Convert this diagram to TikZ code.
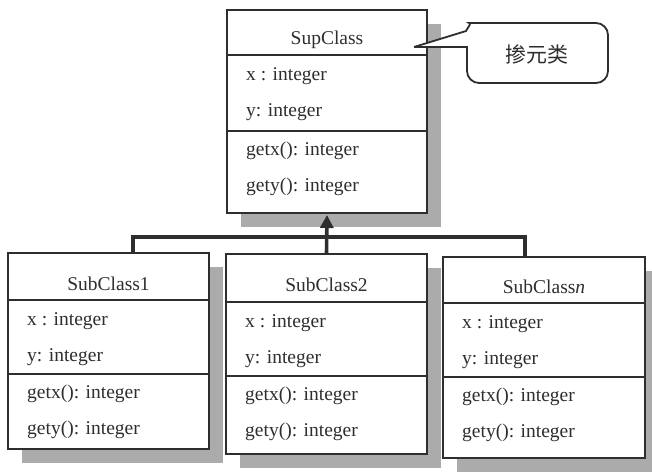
\documentclass[tikz,border=0pt]{standalone}
\usepackage{fontspec}
\setmainfont{Liberation Serif}
\newfontfamily\cjk{Noto Sans CJK SC}
\usetikzlibrary{arrows.meta,calc}
\definecolor{ink}{HTML}{2E2E2E}
\definecolor{shade}{HTML}{ABABAB}
\tikzset{
  frame/.style={draw=ink, line width=1.8pt, fill=white, inner sep=0pt, outer sep=0pt},
  divider/.style={draw=ink, line width=1.6pt},
  shadowbox/.style={fill=shade},
  titletext/.style={font=\fontsize{19.5}{22}\selectfont, text=ink, inner sep=0pt},
  member/.style={font=\fontsize{19.5}{22}\selectfont, text=ink, inner sep=0pt, anchor=west, text height=13pt, text depth=4pt},
  conn/.style={draw=ink, line width=3.6pt, line join=miter},
  callout/.style={draw=ink, line width=1.8pt, fill=white},
}
% #1 name, #2 left, #3 right, #4 top, #5 div1, #6 div2, #7 bottom, #8 title
\newcommand\umlclass[8]{%
  \fill[shadowbox] (#2+14,#4+14) rectangle (#3+14,#7+14);
  \pgfmathsetmacro\bw{#3-#2}%
  \pgfmathsetmacro\bh{#7-#4}%
  \node[frame, anchor=north west, minimum width=\bw pt, minimum height=\bh pt] (#1) at (#2,#4) {};
  \draw[divider] (#2,#5) -- (#3,#5);
  \draw[divider] (#2,#6) -- (#3,#6);
  \node[titletext] (#1-t) at ({(#2+#3)/2},{(#4+#5)/2+7}) {#8};
  \node[member] (#1-a) at (#2+19,#5+21) {x : integer};
  \node[member] (#1-b) at (#2+19,#5+57) {y: integer};
  \node[member] (#1-c) at (#2+19,#6+20) {getx(): integer};
  \node[member] (#1-d) at (#2+19,#6+56) {gety(): integer};
}
\begin{document}
\begin{tikzpicture}[x=1pt,y=-1pt]
\useasboundingbox (0,0) rectangle (652,471);
\umlclass{sup}{227}{427}{10}{55}{131}{213}{SupClass}
\umlclass{sub1}{8}{209}{253}{300}{374}{449}{SubClass1}
\umlclass{sub2}{226}{427}{254}{302}{376}{454}{SubClass2}
\umlclass{subn}{443}{645}{257}{303}{377}{458}{SubClass\textit{n}}
% inheritance connectors
\coordinate (j1) at (133,237);
\coordinate (jn) at (525,237);
\draw[conn] (j1 |- sub1.north) -- (j1) -- (jn) -- (jn |- subn.north);
\draw[conn, -{Triangle[width=13pt,length=13pt]}, shorten >=2pt] (sub2.north) -- (sup.south);
% callout
\coordinate (tip) at ($(sup.north east)+(-13,37)$);
\draw[callout] (tip) -- (467,47) -- (467,60) [rounded corners=12pt] -- (467,83) -- (608,83) -- (608,23) -- (481,23) [sharp corners] .. controls (472,23) and (468,27) .. (466,31) -- (tip);
\node[font=\cjk\fontsize{21}{24}\selectfont, text=ink, inner sep=0pt] (note) at (537,54) {掺元类};
\end{tikzpicture}
\end{document}
